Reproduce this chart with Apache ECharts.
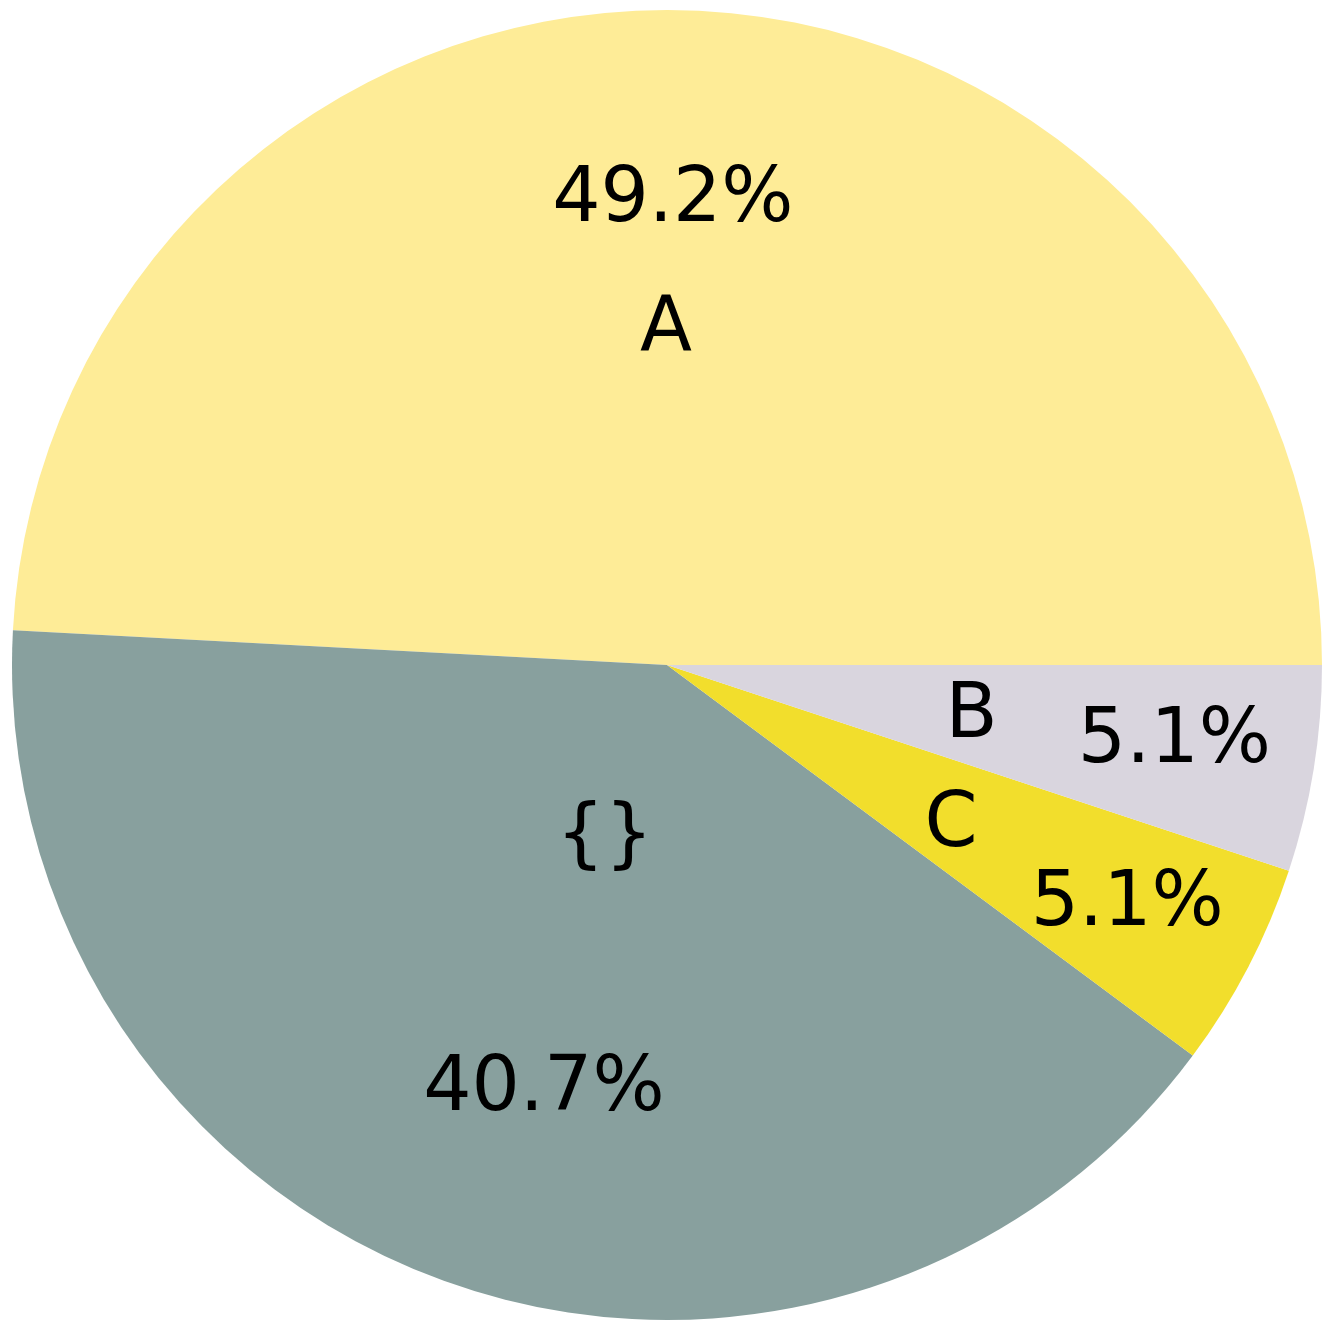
<!DOCTYPE html>
<html>
<head>
<meta charset="utf-8">
<script src="https://cdn.jsdelivr.net/npm/echarts@6/dist/echarts.min.js"></script>
<style>
html,body{margin:0;padding:0;background:#fff;}
#chart{width:1333px;height:1335px;}
</style>
</head>
<body>
<div id="chart"></div>
<script>
// Data (order: counter-clockwise from 3 o'clock)
const categories = ['A', '{}', 'C', 'B'];
const values = [29, 24, 3, 3];
const colors = ['#FEEC97', '#88A09E', '#F2DE2C', '#D9D5DE'];

// label placement (style): relative radius and small angular nudge in degrees
const nameDist = [0.506, 0.276, 0.494, 0.467];
const nameShift = [1.7, 0, -2.1, -0.5];
const pctDist = [0.703, 0.672, 0.788, 0.779];
const pctShift = [0.8, 3.7, -0.1, 0.5];

const total = values.reduce((a, b) => a + b, 0);
const R = 655;
const center = [667, 665];
const font = { fontFamily: 'DejaVu Sans', fontSize: 76, color: '#000' };

const baseData = categories.map((n, j) => ({ name: n, value: values[j] }));

const series = [{
  type: 'pie',
  center: center,
  radius: [0, R],
  startAngle: 0,
  clockwise: false,
  silent: true,
  label: { show: false },
  labelLine: { show: false },
  itemStyle: { borderWidth: 0 },
  data: baseData.map((d, j) => ({ ...d, itemStyle: { color: colors[j] } }))
}];

function labelSeries(i, dist, shift, fmt) {
  const r = dist * R;
  return {
    type: 'pie',
    center: center,
    radius: [r - 1, r + 1],
    startAngle: shift,
    clockwise: false,
    silent: true,
    labelLine: { show: false },
    itemStyle: { color: 'rgba(0,0,0,0)', borderWidth: 0 },
    label: Object.assign({ position: 'inside', formatter: fmt }, font),
    data: baseData.map((d, j) => ({ ...d, label: { show: j === i } }))
  };
}

categories.forEach((c, i) => {
  series.push(labelSeries(i, nameDist[i], nameShift[i], p => p.name));
  series.push(labelSeries(i, pctDist[i], pctShift[i], p => (p.value / total * 100).toFixed(1) + '%'));
});

const chart = echarts.init(document.getElementById('chart'), null, { renderer: 'canvas' });
chart.setOption({
  animation: false,
  backgroundColor: '#ffffff',
  series: series
});
</script>
</body>
</html>
